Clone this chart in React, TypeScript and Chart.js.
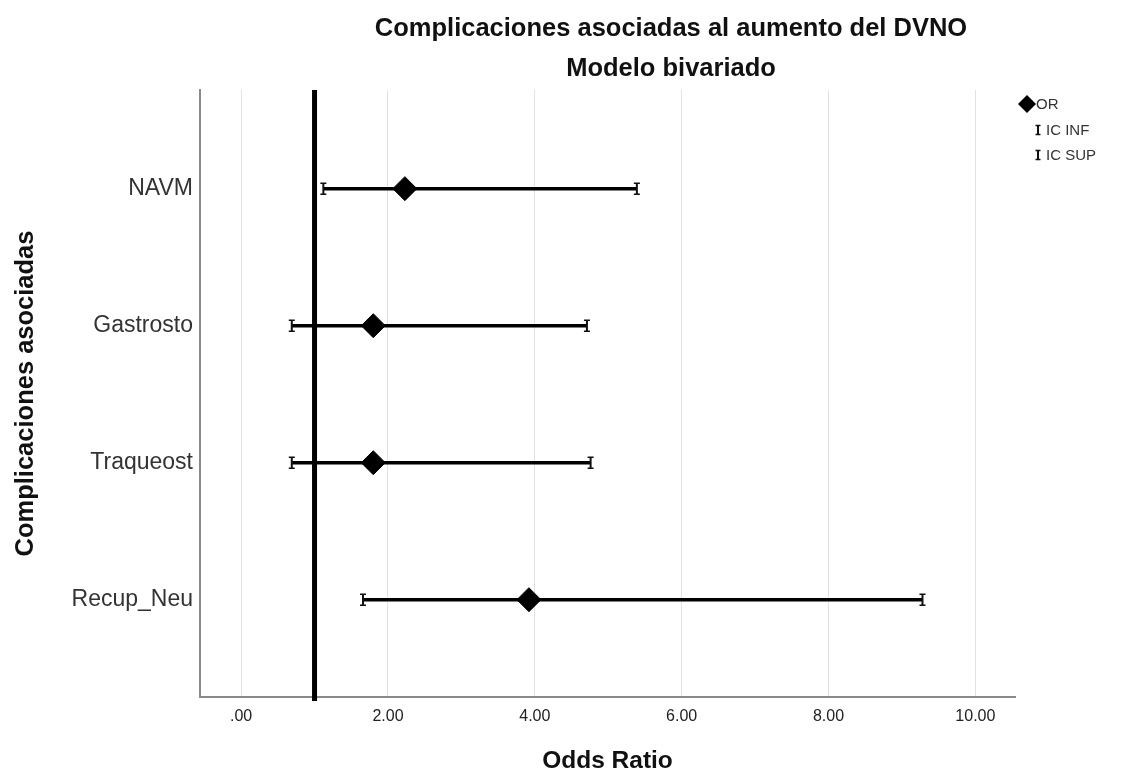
import React, { useEffect, useRef } from "react";
import { Chart, registerables } from "chart.js";

Chart.register(...registerables);

const CATEGORIES = ["NAVM", "Gastrosto", "Traqueost", "Recup_Neu"];
const OR_VALUES = [2.23, 1.8, 1.8, 3.92];
const IC_INF = [1.12, 0.69, 0.69, 1.66];
const IC_SUP = [5.39, 4.71, 4.76, 9.28];
const X_TICKS = [0, 2, 4, 6, 8, 10];
const REF_VALUE = 1;
const TITLE = "Complicaciones asociadas al aumento del DVNO";
const SUBTITLE = "Modelo bivariado";
const X_TITLE = "Odds Ratio";
const Y_TITLE = "Complicaciones asociadas";
const LEGEND_LABELS = ["OR", "IC INF", "IC SUP"];

const FONT = '"Liberation Sans", Arial, sans-serif';

function drawCap(ctx: CanvasRenderingContext2D, x: number, y: number, h: number, w: number) {
  ctx.save();
  ctx.strokeStyle = "#111";
  ctx.lineWidth = 2;
  ctx.beginPath();
  ctx.moveTo(x, y - h / 2);
  ctx.lineTo(x, y + h / 2);
  ctx.stroke();
  ctx.lineWidth = 1.5;
  ctx.beginPath();
  ctx.moveTo(x - w / 2, y - h / 2);
  ctx.lineTo(x + w / 2, y - h / 2);
  ctx.moveTo(x - w / 2, y + h / 2);
  ctx.lineTo(x + w / 2, y + h / 2);
  ctx.stroke();
  ctx.restore();
}

const refLinePlugin = {
  id: "refLine",
  beforeDatasetsDraw(chart: any) {
    const { ctx, chartArea, scales } = chart;
    const x = scales.x.getPixelForValue(REF_VALUE);
    ctx.save();
    ctx.strokeStyle = "#000";
    ctx.lineWidth = 5;
    ctx.beginPath();
    ctx.moveTo(x, chartArea.top);
    ctx.lineTo(x, chartArea.bottom + 4);
    ctx.stroke();
    ctx.restore();
  },
};

const capsPlugin = {
  id: "caps",
  afterDatasetsDraw(chart: any) {
    const { ctx, scales } = chart;
    CATEGORIES.forEach((_, i) => {
      const y = scales.y.getPixelForValue(i);
      drawCap(ctx, scales.x.getPixelForValue(IC_INF[i]), y, 11, 6);
      drawCap(ctx, scales.x.getPixelForValue(IC_SUP[i]), y, 11, 6);
    });
  },
};

const titlePlugin = {
  id: "titles",
  afterDraw(chart: any) {
    const { ctx } = chart;
    ctx.save();
    ctx.fillStyle = "#111";
    ctx.textAlign = "center";
    ctx.textBaseline = "middle";
    ctx.font = `bold 25.5px ${FONT}`;
    ctx.fillText(TITLE, 671, 29);
    ctx.fillText(SUBTITLE, 671, 69);

    // legend
    ctx.fillStyle = "#000";
    const dx = 1027;
    const dy = 104;
    const r = 9;
    ctx.beginPath();
    ctx.moveTo(dx, dy - r);
    ctx.lineTo(dx + r, dy);
    ctx.lineTo(dx, dy + r);
    ctx.lineTo(dx - r, dy);
    ctx.closePath();
    ctx.fill();
    ctx.font = `15px ${FONT}`;
    ctx.fillStyle = "#333";
    ctx.textAlign = "left";
    ctx.fillText(LEGEND_LABELS[0], 1036, 105);
    drawCap(ctx, 1038, 130, 9, 5);
    ctx.fillText(LEGEND_LABELS[1], 1046, 131);
    drawCap(ctx, 1038, 155, 9, 5);
    ctx.fillText(LEGEND_LABELS[2], 1046, 156);
    ctx.restore();
  },
};

export default function App() {
  const canvasRef = useRef<HTMLCanvasElement | null>(null);

  useEffect(() => {
    if (!canvasRef.current) return;
    Chart.defaults.font.family = FONT;

    const whiskerSets = CATEGORIES.map((_, i) => ({
      label: `ci-${i}`,
      data: [
        { x: IC_INF[i], y: i },
        { x: IC_SUP[i], y: i },
      ],
      showLine: true,
      borderColor: "#000",
      borderWidth: 3.5,
      pointRadius: 0,
      order: 2,
    }));

    const chart = new Chart(canvasRef.current, {
      type: "scatter",
      data: {
        datasets: [
          ...whiskerSets,
          {
            label: "OR",
            data: OR_VALUES.map((v, i) => ({ x: v, y: i })),
            pointStyle: "rectRot",
            pointRadius: 12,
            backgroundColor: "#000",
            borderColor: "#000",
            borderWidth: 1,
            order: 1,
          } as any,
        ],
      },
      options: {
        animation: false,
        responsive: false,
        devicePixelRatio: 1,
        layout: { padding: { top: 90, right: 110, left: 0, bottom: 0 } },
        plugins: {
          legend: { display: false },
          tooltip: { enabled: false },
          title: { display: false },
        },
        scales: {
          x: {
            type: "linear",
            min: -0.56,
            max: 10.54,
            afterBuildTicks: (s: any) => {
              s.ticks = X_TICKS.map((v) => ({ value: v }));
            },
            afterFit: (s: any) => {
              s.height = 79;
            },
            ticks: {
              callback: (v: any) => (Number(v) === 0 ? ".00" : Number(v).toFixed(2)),
              font: { size: 16 },
              color: "#222",
              padding: 10,
              maxRotation: 0,
            },
            grid: { color: "#e2e2e2", lineWidth: 1, drawTicks: false },
            border: { color: "#8a8a8a", width: 2 },
            title: {
              display: true,
              text: X_TITLE,
              font: { size: 24.5, weight: "bold" },
              color: "#111",
              padding: { top: 0, bottom: 0 },
            },
          },
          y: {
            type: "linear",
            reverse: true,
            min: -0.72,
            max: 3.71,
            afterBuildTicks: (s: any) => {
              s.ticks = CATEGORIES.map((_, i) => ({ value: i }));
            },
            afterFit: (s: any) => {
              s.width = 200;
            },
            ticks: {
              callback: (v: any) => CATEGORIES[Number(v)] ?? "",
              font: { size: 23 },
              color: "#333",
              padding: 7,
            },
            grid: { display: false, drawTicks: false },
            border: { display: true, color: "#8a8a8a", width: 2 },
            title: {
              display: true,
              text: Y_TITLE,
              font: { size: 25.5, weight: "bold" },
              color: "#111",
              padding: { top: 11, bottom: 0 },
            },
          },
        },
      },
      plugins: [refLinePlugin, capsPlugin, titlePlugin],
    });

    return () => chart.destroy();
  }, []);

  return (
    <div style={{ position: "absolute", left: 0, top: 0, width: 1125, height: 776, background: "#fff" }}>
      <canvas ref={canvasRef} width={1125} height={776} />
    </div>
  );
}
